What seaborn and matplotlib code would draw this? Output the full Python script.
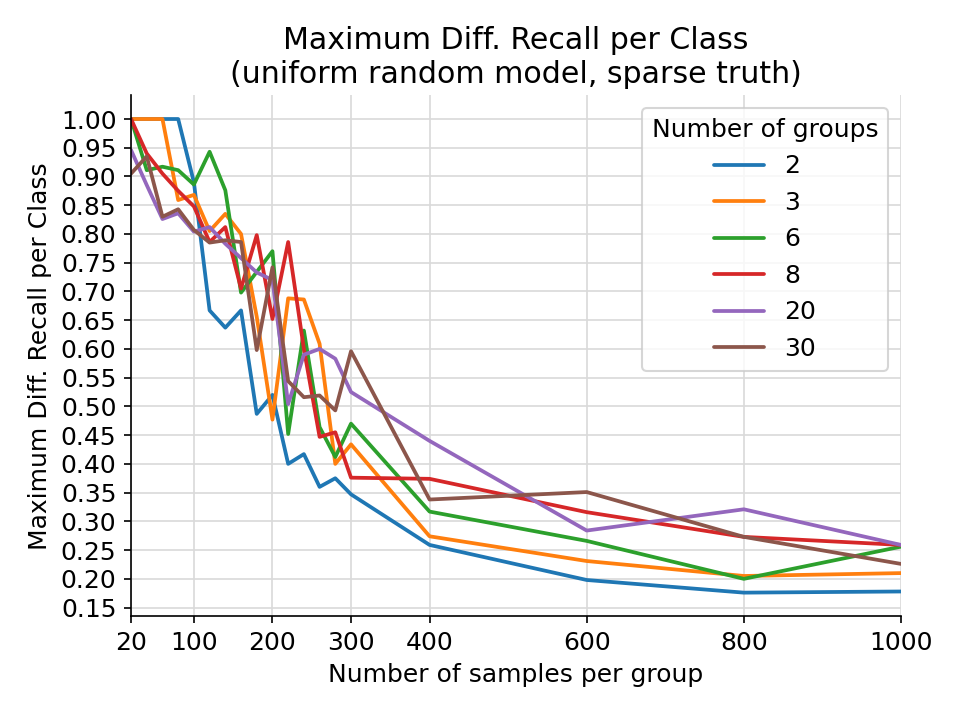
import matplotlib
matplotlib.use("Agg")
import matplotlib.pyplot as plt
import seaborn as sns
import pandas as pd

samples = [20, 40, 60, 80, 100, 120, 140, 160, 180, 200, 220, 240, 260, 280, 300, 400, 600, 800, 1000]

groups = ["2", "3", "6", "8", "20", "30"]

g2 = [1.0, 1.0, 1.0, 1.0, 0.89, 0.667, 0.637, 0.667, 0.487, 0.52, 0.40, 0.417, 0.36, 0.375, 0.347, 0.259, 0.198, 0.176, 0.178]
g3 = [1.0, 1.0, 1.0, 0.859, 0.868, 0.805, 0.835, 0.80, 0.656, 0.477, 0.688, 0.686, 0.609, 0.40, 0.434, 0.274, 0.231, 0.205, 0.21]
g6 = [1.0, 0.911, 0.917, 0.911, 0.886, 0.943, 0.876, 0.698, 0.734, 0.770, 0.452, 0.632, 0.464, 0.412, 0.47, 0.317, 0.266, 0.20, 0.256]
g8 = [1.0, 0.94, 0.905, 0.875, 0.848, 0.786, 0.812, 0.705, 0.798, 0.652, 0.786, 0.60, 0.447, 0.455, 0.376, 0.374, 0.316, 0.273, 0.259]
g20 = [0.946, 0.885, 0.826, 0.836, 0.804, 0.812, 0.783, 0.758, 0.733, 0.72, 0.504, 0.59, 0.60, 0.583, 0.525, 0.44, 0.284, 0.321, 0.259]
g30 = [0.905, 0.935, 0.83, 0.843, 0.807, 0.785, 0.789, 0.786, 0.598, 0.742, 0.544, 0.516, 0.519, 0.493, 0.596, 0.338, 0.351, 0.273, 0.226]

series = [g2, g3, g6, g8, g20, g30]

xticks = [20, 100, 200, 300, 400, 600, 800, 1000]
yticks = [0.15, 0.20, 0.25, 0.30, 0.35, 0.40, 0.45, 0.50, 0.55, 0.60, 0.65,
          0.70, 0.75, 0.80, 0.85, 0.90, 0.95, 1.00]

rows = []
for g, vals in zip(groups, series):
    for s, v in zip(samples, vals):
        rows.append({"samples": s, "value": v, "groups": g})
df = pd.DataFrame(rows)

sns.set_theme(context="notebook", style="ticks")
plt.rcParams['font.family'] = ['DejaVu Sans']
plt.rcParams.update({
    "text.color": "black", "axes.labelcolor": "black", "axes.edgecolor": "black",
    "xtick.color": "black", "ytick.color": "black",
})

fig, ax = plt.subplots(figsize=(6.4, 4.8), dpi=150)
fig.subplots_adjust(left=0.1365, right=0.9385, top=0.8676, bottom=0.144)

sns.lineplot(data=df, x="samples", y="value", hue="groups", hue_order=groups,
             palette="tab10", ax=ax, linewidth=1.8)

ax.set_xlim(20, 1000)
ax.set_xticks(xticks)
ax.set_xticklabels([str(t) for t in xticks])
ax.set_yticks(yticks)
ax.set_yticklabels([f"{t:.2f}" for t in yticks])
ax.tick_params(axis="both", labelsize=12, length=3.5, width=0.8, colors="black")
for sp in ax.spines.values():
    sp.set_linewidth(0.8)
ax.grid(True, color="#d9d9d9", linewidth=0.8)
ax.set_axisbelow(True)

ax.set_xlabel("Number of samples per group", fontsize=12)
ax.set_ylabel("Maximum Diff. Recall per Class", fontsize=12)
ax.set_title("Maximum Diff. Recall per Class\n(uniform random model, sparse truth)", fontsize=14.4)

leg = ax.legend(title="Number of groups", loc="upper right", fontsize=12, title_fontsize=12,
                frameon=True)

sns.despine(ax=ax)

fig.savefig("out.png", dpi=150)
